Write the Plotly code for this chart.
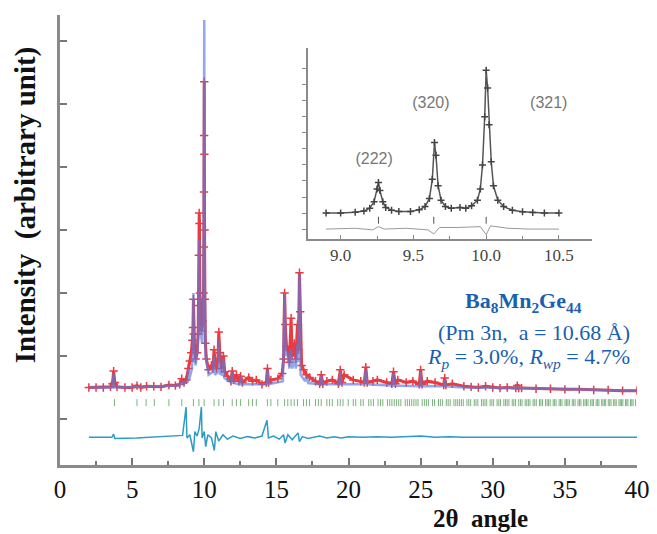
import plotly.graph_objects as go

# ---------------- main pattern data (2theta, intensity in arbitrary units) ----------------
obs_x = [2.0, 2.5, 3.0, 3.5, 3.64, 3.72, 3.8, 3.95, 4.5, 5.0, 5.34, 5.6, 6.0, 6.5, 7.0, 7.55, 8.0,
         8.3, 8.44, 8.6, 8.75, 8.9, 9.0, 9.1, 9.18, 9.22, 9.25, 9.28, 9.33, 9.4, 9.5, 9.58, 9.61,
         9.63, 9.65, 9.67, 9.7, 9.8, 9.9, 9.95, 9.97, 9.98, 9.99, 10.0, 10.01, 10.02, 10.04, 10.08,
         10.15, 10.3, 10.5, 10.6, 10.68, 10.75, 10.85, 10.95, 11.01, 11.08, 11.2, 11.33, 11.42, 11.6,
         11.85, 11.94, 12.05, 12.23, 12.4, 12.52, 12.65, 13.08, 13.35, 13.61, 14.0, 14.3, 14.38,
         14.46, 14.62, 15.1, 15.4, 15.5, 15.57, 15.62, 15.7, 15.79, 15.9, 16.02, 16.1, 16.24, 16.35,
         16.46, 16.53, 16.6, 16.65, 16.75, 16.88, 17.09, 17.3, 17.71, 18.0, 18.11, 18.22, 18.5,
         18.88, 19.3, 19.43, 19.55, 19.7, 20.33, 20.85, 21.1, 21.2, 21.3, 21.69, 22.0, 22.65, 23.0,
         23.12, 23.25, 23.42, 24.0, 24.46, 24.9, 25.0, 25.1, 25.46, 26.0, 26.6, 26.67, 26.75, 27.2,
         28.0, 28.5, 29.0, 29.5, 30.0, 30.5, 31.0, 31.6, 31.7, 31.8, 32.0, 33.0, 34.0, 35.0, 36.0,
         37.0, 38.0, 39.0, 40.0]
obs_y = [0.50, 0.50, 0.50, 0.51, 0.56, 0.76, 0.58, 0.51, 0.50, 0.50, 0.53, 0.50, 0.52, 0.52, 0.51, 0.54, 0.53,
         0.55, 0.64, 0.58, 0.62, 0.80, 0.92, 1.05, 1.25, 1.45, 1.90, 1.35, 1.10, 0.95, 1.05, 1.35, 1.80,
         2.60, 3.27, 3.10, 2.00, 1.40, 1.55, 2.00, 2.73, 3.60, 4.50, 5.35, 4.20, 3.00, 1.90, 1.20,
         0.95, 0.78, 0.85, 0.80, 1.10, 0.90, 0.80, 0.95, 1.38, 1.05, 0.80, 1.00, 0.75, 0.68,
         0.60, 0.76, 0.62, 0.70, 0.60, 0.68, 0.58, 0.66, 0.60, 0.62, 0.55, 0.58, 0.80,
         0.58, 0.62, 0.64, 0.72, 0.95, 2.00, 1.50, 1.15, 1.10, 0.90, 1.60, 1.00, 1.20, 0.95,
         1.50, 1.10, 2.32, 1.70, 0.85, 0.78, 0.70, 0.66, 0.60, 0.56, 0.70, 0.56, 0.60,
         0.62, 0.56, 0.78, 0.58, 0.70, 0.62, 0.60, 0.58, 0.82, 0.58, 0.60, 0.62, 0.58, 0.56,
         0.75, 0.56, 0.62, 0.58, 0.60, 0.55, 0.78, 0.55, 0.60, 0.58, 0.54, 0.65, 0.54, 0.56,
         0.52, 0.51, 0.50, 0.52, 0.50, 0.49, 0.50, 0.49, 0.53, 0.49, 0.49, 0.48, 0.48, 0.47, 0.47,
         0.46, 0.46, 0.45, 0.45]

calc_x = [2.0, 3.64, 3.72, 3.8, 8.3, 8.44, 8.55, 8.85, 8.9, 8.95, 9.15, 9.22, 9.25, 9.28, 9.4, 9.55,
          9.62, 9.65, 9.68, 9.85, 9.95, 9.98, 10.0, 10.02, 10.08, 10.3, 10.6, 10.68, 10.75, 10.95,
          11.01, 11.08, 11.25, 11.33, 11.4, 11.85, 11.94, 12.02, 12.45, 12.52, 12.6, 14.3, 14.38,
          14.46, 15.45, 15.57, 15.65, 15.79, 15.9, 16.02, 16.1, 16.24, 16.35, 16.46, 16.52, 16.6,
          16.68, 17.0, 17.09, 17.2, 18.05, 18.11, 18.2, 19.35, 19.43, 19.5, 21.1, 21.2, 21.3, 23.05,
          23.12, 23.2, 24.95, 25.0, 25.07, 26.6, 26.67, 26.75, 28.0, 31.65, 31.7, 31.75, 40.0]
calc_y = [0.50, 0.50, 0.72, 0.50, 0.53, 0.60, 0.55, 0.60, 0.80, 0.62, 0.80, 1.20, 2.00, 1.10, 0.85, 1.10,
          1.80, 2.84, 1.50, 1.20, 2.00, 3.60, 6.33, 3.00, 1.00, 0.70, 0.75, 1.00, 0.70, 0.75,
          1.25, 0.72, 0.70, 0.95, 0.65, 0.58, 0.75, 0.57, 0.55, 0.68, 0.55, 0.55, 0.78,
          0.55, 0.60, 2.00, 1.00, 1.05, 0.80, 1.10, 0.80, 0.95, 0.80, 1.20, 0.90, 2.30,
          0.70, 0.60, 0.68, 0.57, 0.55, 0.68, 0.55, 0.55, 0.75, 0.55, 0.55, 0.78, 0.55, 0.53,
          0.72, 0.53, 0.52, 0.75, 0.52, 0.52, 0.62, 0.52, 0.50, 0.49, 0.52, 0.49, 0.45]

diff_x = [2.0, 3.6, 3.72, 3.8, 5.3, 6.0, 7.5, 8.5, 8.74, 8.8, 9.0, 9.1, 9.25, 9.35, 9.5, 9.65, 9.8,
          9.85, 10.0, 10.1, 10.25, 10.5, 10.7, 10.8, 11.0, 11.3, 11.6, 12.0, 12.5, 13.0, 13.5, 14.0,
          14.35, 14.45, 14.8, 15.2, 15.5, 15.6, 15.8, 16.1, 16.5, 16.6, 16.8, 17.2, 18.0, 18.5, 19.0,
          19.5, 20.0, 21.0, 22.0, 23.0, 24.0, 25.0, 26.0, 27.0, 28.0, 30.0, 32.0, 34.0, 36.0, 38.0, 40.0]
diff_y = [-0.29, -0.29, -0.24, -0.31, -0.30, -0.29, -0.28, -0.26, 0.19, -0.30, -0.25, -0.35, -0.52, -0.20, -0.27, -0.15, 0.19,
          -0.30, -0.20, -0.44, -0.25, -0.30, -0.50, -0.20, -0.35, -0.25, -0.32, -0.27, -0.31, -0.28, -0.30, -0.27,
          -0.02, -0.30, -0.27, -0.32, -0.25, -0.38, -0.25, -0.33, -0.22, -0.36, -0.28, -0.31, -0.27, -0.30, -0.28,
          -0.30, -0.28, -0.29, -0.28, -0.29, -0.28, -0.27, -0.29, -0.28, -0.29, -0.29, -0.29, -0.29, -0.29, -0.29, -0.29]

bragg_x = [3.78, 5.34, 5.97, 6.54, 7.55, 8.44, 9.25, 9.63, 9.99, 10.68, 11.01, 11.33, 11.94, 12.23,
           12.52, 13.08, 13.35, 13.61, 14.38, 14.62, 15.10, 15.57, 15.79, 16.02, 16.24, 16.46, 16.88,
           17.09, 17.30, 17.71, 17.91, 18.11, 18.50, 18.69, 18.88, 19.25, 19.43, 19.62, 19.98, 20.33,
           20.50, 20.85, 21.02, 21.40, 21.56, 21.73, 22.05, 22.22, 22.38, 22.70, 22.86, 23.01, 23.17,
           23.32, 23.48, 23.63, 23.93, 24.08, 24.23, 24.38, 24.53, 24.68, 24.82, 25.11, 25.26, 25.40,
           25.54, 25.82, 25.96, 26.24, 26.37, 26.51, 26.78, 26.91, 27.05, 27.31, 27.44, 27.57, 27.70,
           27.83, 27.96, 28.21, 28.34, 28.47, 28.72, 28.84, 28.97, 29.22, 29.34, 29.46, 29.58, 29.82,
           29.94, 30.06, 30.30, 30.42, 30.54, 30.77, 30.89, 31.00, 31.12, 31.35, 31.46, 31.58, 31.80,
           31.92, 32.03, 32.25, 32.36, 32.47, 32.58, 32.80, 32.91, 33.02, 33.24, 33.34, 33.45, 33.66,
           33.77, 33.87, 33.98, 34.19, 34.29, 34.39, 34.60, 34.70, 34.80, 35.01, 35.11, 35.21, 35.31,
           35.51, 35.61, 35.71, 35.91, 36.01, 36.11, 36.30, 36.40, 36.50, 36.60, 36.79, 36.89, 36.98,
           37.17, 37.27, 37.36, 37.55, 37.64, 37.74, 37.83, 38.01, 38.11, 38.20, 38.38, 38.47, 38.56,
           38.75, 38.84, 38.93, 39.02, 39.20, 39.29, 39.37, 39.55, 39.64, 39.73, 39.90]
bragg_level = 0.26

# ---------------- inset data ----------------
ins_x = [8.90, 9.00, 9.10, 9.16, 9.20, 9.23, 9.25, 9.26, 9.27, 9.29, 9.31, 9.35, 9.40, 9.48, 9.54,
         9.58, 9.61, 9.63, 9.645, 9.655, 9.67, 9.69, 9.72, 9.76, 9.82, 9.86, 9.90, 9.94, 9.96,
         9.975, 9.99, 10.00, 10.01, 10.02, 10.035, 10.05, 10.08, 10.12, 10.18, 10.25, 10.32, 10.40, 10.50]
ins_y = [1.00, 1.00, 1.05, 1.12, 1.30, 1.70, 2.50, 2.90, 2.40, 1.70, 1.35, 1.18, 1.10, 1.10, 1.20,
         1.40, 1.90, 3.10, 5.40, 4.60, 2.70, 1.80, 1.40, 1.30, 1.35, 1.30, 1.45, 1.80, 2.50,
         4.00, 7.00, 9.90, 8.80, 6.50, 4.20, 2.70, 1.80, 1.40, 1.18, 1.08, 1.03, 1.00, 1.00]
ins_diff_x = [8.90, 9.10, 9.22, 9.26, 9.30, 9.45, 9.60, 9.64, 9.68, 9.80, 9.96, 10.00, 10.03, 10.15, 10.30, 10.50]
ins_diff_y = [0.00, 0.05, -0.05, 0.15, 0.00, 0.05, -0.05, -0.30, 0.10, 0.10, 0.15, -0.35, 0.20, 0.05, 0.00, 0.00]
ins_bragg_x = [9.26, 9.64, 10.0]
ins_bragg_level = 0.55
hkl_labels = ["(222)", "(320)", "(321)"]
hkl_x = [9.23, 9.62, 10.43]
hkl_y = [4.3, 7.8, 7.8]

main_xticks = [0, 5, 10, 15, 20, 25, 30, 35, 40]
inset_xticks = [9.0, 9.5, 10.0, 10.5]

SERIF = "Liberation Serif, Times New Roman, serif"
SANS = "Liberation Sans, Arial, sans-serif"
RED = "#e8262c"
BLUE = "#5a7be0"
TEAL = "#2b9cc4"
GREEN = "#4f9a52"
TXTBLUE = "#1a5fb0"

fig = go.Figure()

fig.add_trace(go.Scatter(x=obs_x, y=obs_y, mode="lines+markers",
                         line=dict(color=RED, width=3),
                         marker=dict(symbol="cross-thin", size=6, line=dict(color=RED, width=1.5)),
                         opacity=0.9, showlegend=False))
fig.add_trace(go.Scatter(x=calc_x, y=calc_y, mode="lines",
                         line=dict(color=BLUE, width=2.5), opacity=0.65, showlegend=False))
fig.add_trace(go.Scatter(x=bragg_x, y=[bragg_level] * len(bragg_x), mode="markers",
                         marker=dict(symbol="line-ns", size=5, line=dict(color=GREEN, width=1)),
                         opacity=0.75, showlegend=False))
fig.add_trace(go.Scatter(x=diff_x, y=diff_y, mode="lines",
                         line=dict(color=TEAL, width=1.5), showlegend=False))

# inset traces
fig.add_trace(go.Scatter(x=ins_x, y=ins_y, mode="lines+markers", xaxis="x2", yaxis="y2",
                         line=dict(color="#555555", width=1.5),
                         marker=dict(symbol="cross-thin", size=5, line=dict(color="#444444", width=1.5)),
                         showlegend=False))
fig.add_trace(go.Scatter(x=ins_diff_x, y=ins_diff_y, mode="lines", xaxis="x2", yaxis="y2",
                         line=dict(color="#999999", width=1), showlegend=False))
fig.add_trace(go.Scatter(x=ins_bragg_x, y=[ins_bragg_level] * len(ins_bragg_x), mode="markers",
                         xaxis="x2", yaxis="y2",
                         marker=dict(symbol="line-ns", size=5, line=dict(color="#555555", width=1)),
                         showlegend=False))
fig.add_trace(go.Scatter(x=hkl_x, y=hkl_y, mode="text", text=hkl_labels, xaxis="x2", yaxis="y2",
                         textfont=dict(family=SANS, size=16, color="#777777"), showlegend=False))

# page body has an 8px margin, so the figure is placed 8px right/down in the window
fig.update_layout(
    width=649, height=526,
    margin=dict(l=52, r=15, t=7, b=69),
    paper_bgcolor="white", plot_bgcolor="white",
    xaxis=dict(range=[0, 40], tickvals=main_xticks, ticks="inside", ticklen=7, tickwidth=2,
               tickcolor="#777777", showline=True, linecolor="#8a8a8a", linewidth=2.5,
               showgrid=False, zeroline=False, mirror=False,
               minor=dict(dtick=2.5, ticks="inside", ticklen=4, tickwidth=1.5, tickcolor="#777777"),
               tickfont=dict(family=SERIF, size=25, color="#111111")),
    yaxis=dict(range=[-0.73, 6.41], tickvals=[0, 1, 2, 3, 4, 5, 6], ticks="inside", ticklen=7,
               tickwidth=2, tickcolor="#777777", showticklabels=False, showline=True,
               linecolor="#8a8a8a", linewidth=2.5, showgrid=False, zeroline=False),
    xaxis2=dict(domain=[0.4296, 0.9227], anchor="y2", range=[8.775, 10.73], tickvals=inset_xticks,
                ticktext=["9.0", "9.5", "10.0", "10.5"],
                ticks="inside", ticklen=4, tickwidth=1, tickcolor="#888888", showline=True,
                linecolor="#8a8a8a", linewidth=1.5, showgrid=False, zeroline=False,
                minor=dict(dtick=0.25, ticks="inside", ticklen=3, tickcolor="#888888"),
                tickfont=dict(family=SERIF, size=17, color="#444444")),
    yaxis2=dict(domain=[0.502, 0.927], anchor="x2", range=[-0.625, 11.3],
                tickvals=list(range(11)), ticks="outside", ticklen=4, tickwidth=1,
                tickcolor="#888888", showticklabels=False, showline=True, linecolor="#8a8a8a",
                linewidth=1.5, showgrid=False, zeroline=False),
)

def px(xp):
    return (xp - 60) / 582.0

def py(yp):
    return (465 - yp) / 450.0

def note(text, xw, yw, size, color="#111111", xanchor="center", angle=0):
    fig.add_annotation(text=text, xref="paper", yref="paper", x=px(xw), y=py(yw),
                       xanchor=xanchor, yanchor="middle", textangle=angle, showarrow=False,
                       font=dict(family=SERIF, size=size, color=color))

note("<b>Intensity  (arbitrary unit)</b>", 25, 205, 29, angle=-90)
note("<b>2θ  angle</b>", 484, 518, 25)
note("<b>Ba<sub>8</sub>Mn<sub>2</sub>Ge<sub>44</sub></b>", 528, 302, 22, color=TXTBLUE)
note("(Pm 3n,  a = 10.68 Å)", 637, 332, 22, color=TXTBLUE, xanchor="right")
note("<i>R<sub>p</sub></i> = 3.0%, <i>R<sub>wp</sub></i> = 4.7%", 637, 358, 22, color=TXTBLUE, xanchor="right")

fig.write_html("out.html")
